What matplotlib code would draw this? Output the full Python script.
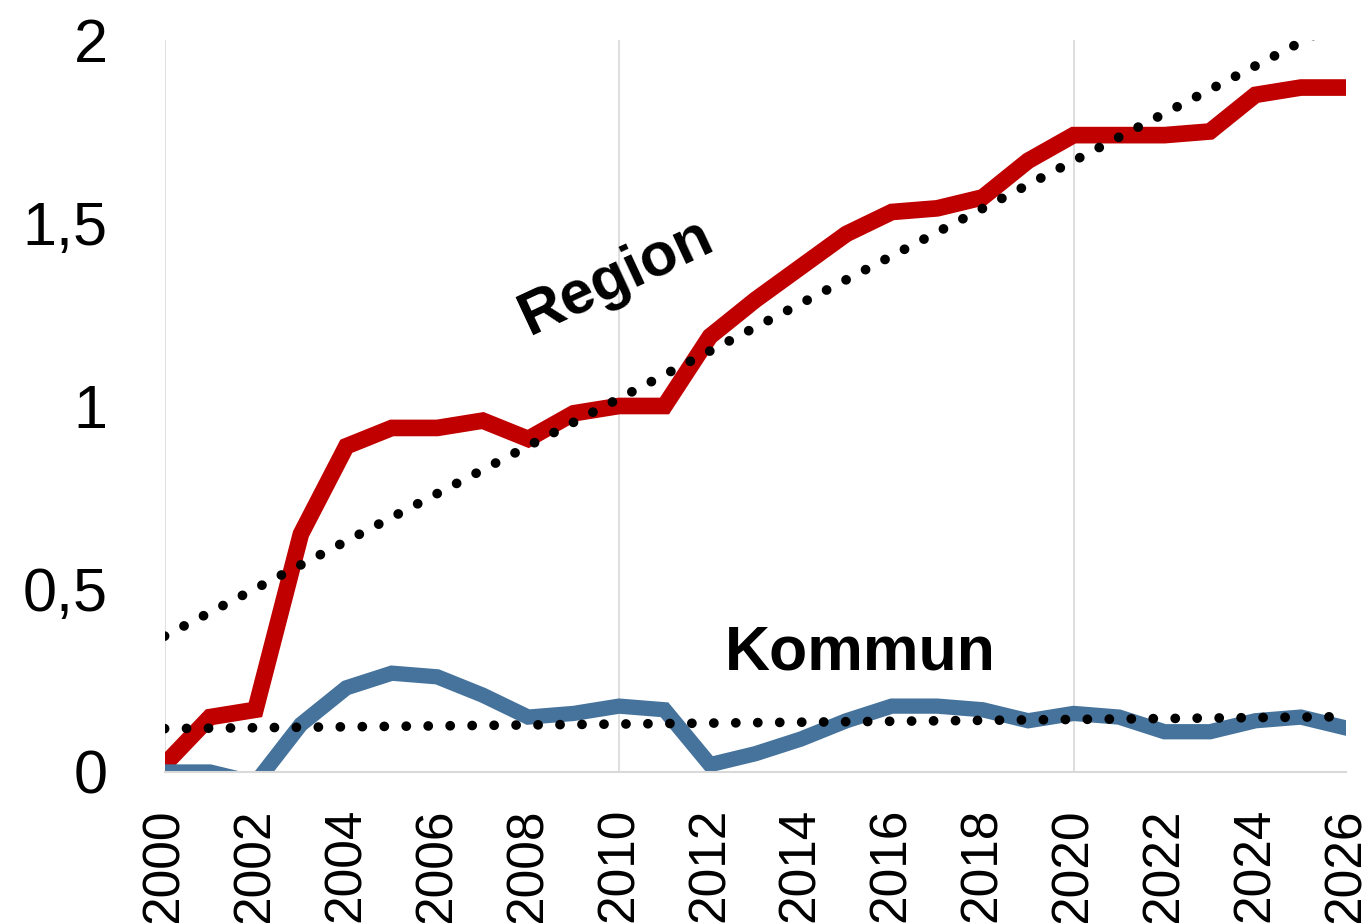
import numpy as np
import matplotlib.pyplot as plt

plt.rcParams['font.family'] = ['Liberation Sans', 'DejaVu Sans']

years = np.arange(2000, 2027)
region = [0.02, 0.15, 0.17, 0.65, 0.89, 0.94, 0.94, 0.96, 0.91, 0.98,
          1.00, 1.00, 1.19, 1.29, 1.38, 1.47, 1.53, 1.54, 1.57, 1.67,
          1.74, 1.74, 1.74, 1.75, 1.85, 1.87, 1.87]
kommun = [0.00, 0.00, -0.03, 0.13, 0.23, 0.27, 0.26, 0.21, 0.15, 0.16,
          0.18, 0.17, 0.02, 0.05, 0.09, 0.14, 0.18, 0.18, 0.17, 0.14,
          0.16, 0.15, 0.11, 0.11, 0.14, 0.15, 0.12]
yticks = [0, 0.5, 1, 1.5, 2]
ytick_labels = ['0', '0,5', '1', '1,5', '2']

fig = plt.figure(figsize=(13.71, 9.23), dpi=100)
ax = fig.add_axes([0.120, 0.1636, 0.862, 0.7931])

# linear trend lines (like Excel's trendline)
pr = np.polyfit(years, region, 1)
pk = np.polyfit(years, kommun, 1)
dot = (0, (0.01, 2.25))
ax.plot(years, np.polyval(pr, years), color='black', lw=7, ls=dot,
        dash_capstyle='round', zorder=3)
ax.plot(years, np.polyval(pk, years), color='black', lw=7, ls=dot,
        dash_capstyle='round', zorder=3)

ax.plot(years, region, color='#c00000', lw=12, solid_joinstyle='miter', zorder=2)
ax.plot(years, kommun, color='#46739c', lw=11, solid_joinstyle='miter', zorder=2)

ax.set_xlim(2000, 2026)
ax.set_ylim(0, 2)
ax.set_xticks(np.arange(2000, 2027, 2))
ax.set_xticklabels([str(y) for y in range(2000, 2027, 2)], rotation=90, fontsize=37)
ax.set_yticks(yticks)
ax.set_yticklabels(ytick_labels, fontsize=44)
ax.tick_params(axis='both', length=0)
ax.tick_params(axis='y', pad=41)
ax.tick_params(axis='x', pad=26)

for x in [2000, 2010, 2020]:
    ax.axvline(x, color='#d9d9d9', lw=1.2, zorder=1)
for s in ['top', 'right', 'left']:
    ax.spines[s].set_visible(False)
ax.spines['bottom'].set_color('#d9d9d9')
ax.spines['bottom'].set_linewidth(1.5)

ax.text(2009.95, 1.35, 'Region', fontsize=44, fontweight='bold', rotation=25,
        ha='center', va='center', zorder=4)
ax.text(2015.3, 0.325, 'Kommun', fontsize=45, fontweight='bold',
        ha='center', va='center', zorder=4)

fig.savefig('out.png', dpi=100)
